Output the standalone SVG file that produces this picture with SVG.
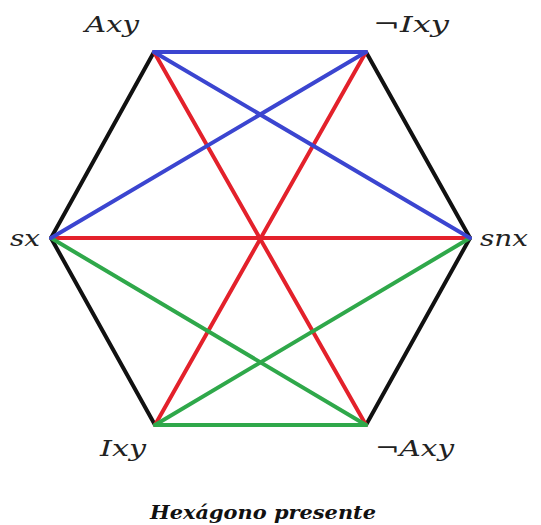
<svg xmlns="http://www.w3.org/2000/svg" width="541" height="525" viewBox="0 0 541 525">
<style>
.e{stroke-width:4;stroke-linecap:round;fill:none}
.k{stroke:#111}
.b{stroke:#3b45d0}
.r{stroke:#e3212b}
.g{stroke:#2fa84a}
.t{font-family:"DejaVu Serif",serif;font-style:italic;font-size:23px;fill:#222}
.c{font-family:"DejaVu Serif",serif;font-style:italic;font-weight:bold;font-size:18px;fill:#111}
</style>
<rect width="541" height="525" fill="#fff"/>
<g id="connectors">
<line class="e k" x1="154" y1="52" x2="51" y2="238"/>
<line class="e k" x1="51" y1="238" x2="155" y2="425"/>
<line class="e k" x1="366" y1="52" x2="470" y2="238"/>
<line class="e k" x1="470" y1="238" x2="366" y2="425"/>
<line class="e r" x1="154" y1="52" x2="366" y2="425"/>
<line class="e r" x1="366" y1="52" x2="155" y2="425"/>
<line class="e r" x1="51" y1="238" x2="470" y2="238"/>
<line class="e g" x1="155" y1="425" x2="366" y2="425"/>
<line class="e g" x1="51" y1="238" x2="366" y2="425"/>
<line class="e g" x1="470" y1="238" x2="155" y2="425"/>
<line class="e b" x1="154" y1="52" x2="366" y2="52"/>
<line class="e b" x1="154" y1="52" x2="470" y2="238"/>
<line class="e b" x1="366" y1="52" x2="51" y2="238"/>
</g>
<g id="n-Axy"><text class="t" x="85" y="32" textLength="54" lengthAdjust="spacingAndGlyphs">Axy</text></g>
<g id="n-notIxy"><text class="t" x="373" y="32" textLength="76" lengthAdjust="spacingAndGlyphs">¬Ixy</text></g>
<g id="n-sx"><text class="t" x="10" y="246" textLength="30" lengthAdjust="spacingAndGlyphs">sx</text></g>
<g id="n-snx"><text class="t" x="480" y="246" textLength="48" lengthAdjust="spacingAndGlyphs">snx</text></g>
<g id="n-Ixy"><text class="t" x="100" y="456" textLength="46" lengthAdjust="spacingAndGlyphs">Ixy</text></g>
<g id="n-notAxy"><text class="t" x="375" y="456" textLength="79" lengthAdjust="spacingAndGlyphs">¬Axy</text></g>
<g id="caption"><text class="c" x="150" y="519" textLength="226" lengthAdjust="spacingAndGlyphs">Hexágono presente</text></g>
</svg>
